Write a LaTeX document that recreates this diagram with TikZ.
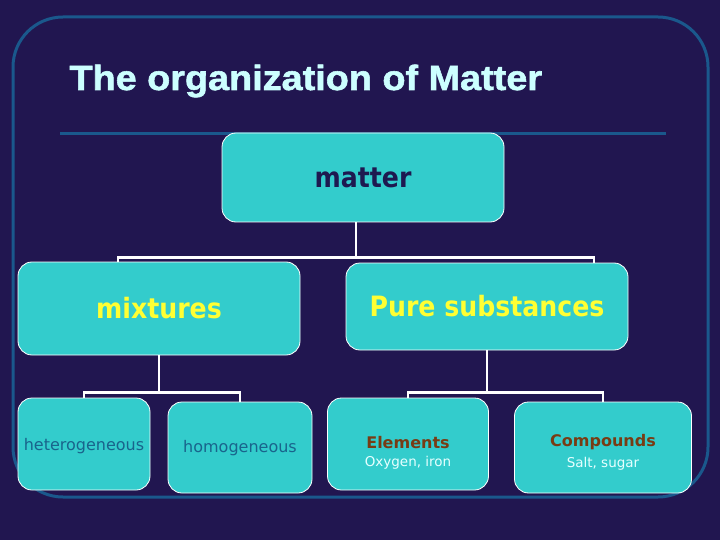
\documentclass[tikz,border=0pt]{standalone}
\usepackage{fontspec}
\setmainfont{DejaVu Sans}
\newfontfamily\titlefont[FakeStretch=1.08,FakeBold=1.6]{Liberation Sans}
\newfontfamily\headfont[FakeStretch=0.9]{DejaVu Sans}
\definecolor{bgnavy}{RGB}{33,22,80}
\definecolor{framebl}{RGB}{26,88,140}
\definecolor{boxfill}{RGB}{51,204,204}
\definecolor{titlecol}{RGB}{204,255,255}
\definecolor{headyel}{RGB}{255,255,51}
\definecolor{leafcol}{RGB}{25,100,140}
\definecolor{elemcol}{RGB}{120,60,20}
\definecolor{subcol}{RGB}{230,255,255}
\definecolor{darktxt}{RGB}{30,25,80}
\newcommand\kindtext[3]{\raisebox{#1}[0pt][0pt]{\shortstack{\textcolor{elemcol}{\bfseries\fontsize{16}{18}\selectfont #2}\\[4pt]#3}}}
\newcommand\leaftext[2]{\raisebox{#1}[0pt][0pt]{#2}}
\tikzset{
  box/.style={draw=white,line width=0.8pt,fill=boxfill,rounded corners=14pt,inner sep=0pt},
  conn/.style={draw=white,line width=2.5pt},
  head/.style={font=\headfont\bfseries\fontsize{28}{30}\selectfont},
  leaf/.style={font=\fontsize{16}{18}\selectfont,text=leafcol},
  kind/.style={align=center,font=\fontsize{13.5}{16}\selectfont,text=subcol}
}
\begin{document}
\begin{tikzpicture}[x=1pt,y=-1pt]
\fill[bgnavy](0,0)rectangle(720,540);
\useasboundingbox(0,0)rectangle(720,540);
\draw[framebl,line width=3pt,rounded corners=50pt](13,17)rectangle(708,497);
\draw[framebl,line width=3pt](60,134)--(666,134);
\node[anchor=base west,text=titlecol,font=\titlefont\bfseries\fontsize{35}{40}\selectfont] (title) at (66,90){The organization of Matter};
\node[box,minimum width=282pt,minimum height=89pt,head,text=darktxt] (matter) at (363,177.5){matter};
\node[box,minimum width=282pt,minimum height=93pt,head,text=headyel] (mix) at (159,308.5){mixtures};
\node[box,minimum width=282pt,minimum height=87pt,head,text=headyel] (pure) at (487,306.5){Pure substances};
\node[box,minimum width=132pt,minimum height=92pt,leaf] (het) at (84,444){\leaftext{-6pt}{heterogeneous}};
\node[box,minimum width=144pt,minimum height=91pt,leaf] (hom) at (240,447.5){\leaftext{-5pt}{homogeneous}};
\node[box,minimum width=161pt,minimum height=92pt,kind] (elem) at (408,444){\kindtext{-22pt}{Elements}{Oxygen, iron}};
\node[box,minimum width=177pt,minimum height=91pt,kind] (comp) at (603,447.5){\kindtext{-19.5pt}{Compounds}{Salt, sugar}};
\draw[conn]([xshift=-7pt]matter.south)--++(0,35)-|([xshift=-41pt]mix.north);
\draw[conn]([xshift=-7pt]matter.south)--++(0,35)-|([xshift=107pt]pure.north);
\draw[conn](mix.south)--++(0,37)-|(het.north);
\draw[conn](mix.south)--++(0,37)-|(hom.north);
\draw[conn](pure.south)--++(0,42)-|(elem.north);
\draw[conn](pure.south)--++(0,42)-|(comp.north);
\end{tikzpicture}
\end{document}
